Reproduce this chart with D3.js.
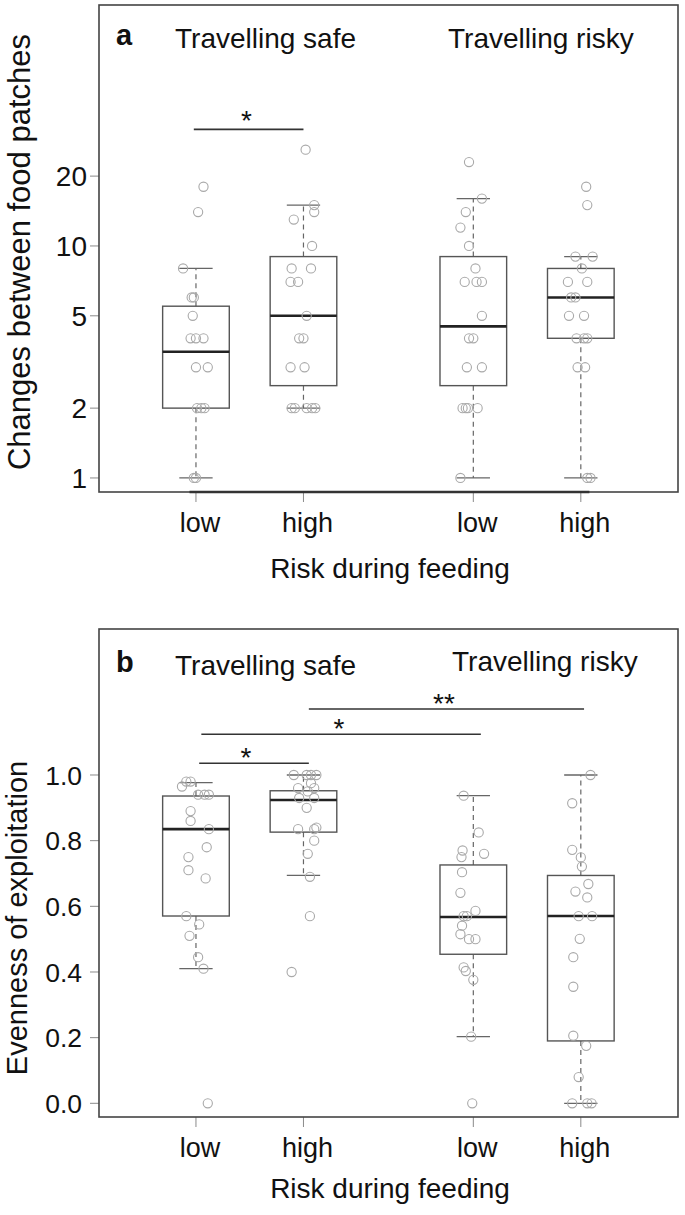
<!DOCTYPE html>
<html><head><meta charset="utf-8">
<script src="https://cdn.jsdelivr.net/npm/d3@7"></script>
<style>
body{margin:0;background:#fff}
svg{display:block}
text{font-family:"Liberation Sans",Arial,Helvetica,sans-serif;fill:#111}
</style>
</head><body>
<svg id="c" width="685" height="1215"></svg>
<script>
// ---------- DATA ----------
const categories = ["low","high","low","high"];
const groupTitles = ["Travelling safe","Travelling risky"];
const xTitle = "Risk during feeding";
const yTitleA = "Changes between food patches";
const yTitleB = "Evenness of exploitation";
const ticksA = [1,2,5,10,20];
const ticksB = [0.0,0.2,0.4,0.6,0.8,1.0];

// Panel a: changes between food patches (raw points)
const aSafeLow  = [18,14,8,6,6,5,4,4,4,3,3,2,2,2,1,1];
const aSafeHigh = [26,15,14,13,10,8,8,7,7,5,4,4,3,3,2,2,2,2,2];
const aRiskLow  = [23,16,14,12,10,8,7,7,7,5,4,4,3,3,2,2,2,2,1];
const aRiskHigh = [18,15,9,9,8,7,7,6,6,5,5,4,4,4,3,3,1,1];
// horizontal jitter of each point (x units)
const aSafeLowJit  = [0.07,0.02,-0.12,-0.04,-0.02,-0.03,-0.05,0.0,0.07,0.0,0.11,0.01,0.05,0.08,-0.02,0.0];
const aSafeHighJit = [0.02,0.10,0.10,-0.09,0.08,-0.11,0.07,-0.12,-0.05,0.03,-0.04,0.0,-0.12,0.01,-0.11,-0.08,0.03,0.08,0.11];
const aRiskLowJit  = [-0.04,0.08,-0.07,-0.12,-0.04,0.02,-0.08,0.03,0.08,0.08,-0.04,0.0,-0.06,0.08,-0.10,-0.07,-0.05,0.04,-0.12];
const aRiskHighJit = [0.05,0.06,-0.05,0.11,0.01,-0.12,0.06,-0.09,-0.05,-0.11,0.03,-0.04,0.03,0.06,-0.03,0.04,0.06,0.09];
// box statistics panel a
const aLower  = [1,2,1,1];
const aQ1     = [2,2.5,2.5,4];
const aMedian = [3.5,5,4.5,6];
const aQ3     = [5.5,9,9,8];
const aUpper  = [8,15,16,9];

// Panel b: evenness of exploitation
const bSafeLow  = [0.98,0.98,0.965,0.94,0.94,0.94,0.89,0.86,0.835,0.78,0.75,0.71,0.685,0.57,0.545,0.51,0.445,0.41,0.0];
const bSafeHigh = [1,1,1,1,0.975,0.96,0.96,0.95,0.93,0.93,0.90,0.835,0.835,0.84,0.80,0.76,0.69,0.57,0.40];
const bRiskLow  = [0.937,0.825,0.77,0.76,0.75,0.704,0.641,0.586,0.57,0.57,0.541,0.515,0.50,0.50,0.414,0.403,0.376,0.203,0.0];
const bRiskHigh = [1.0,0.914,0.772,0.749,0.721,0.668,0.645,0.627,0.57,0.57,0.501,0.445,0.355,0.206,0.175,0.08,0,0,0];
const bSafeLowJit  = [-0.09,-0.05,-0.13,0.02,0.08,0.12,-0.05,-0.05,0.12,0.10,-0.07,-0.07,0.09,-0.09,0.03,-0.06,0.02,0.07,0.11];
const bSafeHighJit = [-0.09,0.03,0.07,0.12,0.07,-0.05,0.10,0.04,-0.04,0.10,0.03,-0.05,0.10,0.12,0.10,0.04,0.06,0.06,-0.11];
const bRiskLowJit  = [-0.09,0.05,-0.10,0.10,-0.11,-0.105,-0.12,0.02,-0.09,-0.06,-0.105,-0.12,-0.04,0.02,-0.09,-0.07,0.0,-0.02,-0.01];
const bRiskHighJit = [0.09,-0.08,-0.08,0.0,0.01,0.07,-0.05,0.06,-0.02,0.105,-0.01,-0.07,-0.07,-0.07,0.05,-0.02,-0.08,0.06,0.10];
const bLower  = [0.41,0.694,0.203,0.0];
const bQ1     = [0.5705,0.826,0.454,0.19];
const bMedian = [0.835,0.924,0.5675,0.5705];
const bQ3     = [0.936,0.952,0.726,0.694];
const bUpper  = [0.977,1.0,0.937,1.0];

// significance brackets
const sigA = [{from:0.98, to:2.0, at:31.8, label:"*", mid:1.47}];
const sigB = [
  {from:1.03, to:2.05, at:1.036, label:"*", mid:1.465},
  {from:1.05, to:3.65, at:1.124, label:"*", mid:2.33},
  {from:2.05, to:4.61, at:1.201, label:"**", mid:3.307}
];

// ---------- LAYOUT ----------
const svg = d3.select("#c");
const groupPos = [1, 2, 3.58, 4.58];
const left = 99, right = 678;
const x = d3.scaleLinear().domain([0.098, 5.484]).range([left, right]);
const halfBox = 0.31, halfStaple = 0.155;

function drawPanel(p) {
  const g = svg.append("g");
  const y = p.y;
  const [yb, yt] = y.range();

  // y axis ticks and labels
  p.ticks.forEach(t => {
    g.append("line").attr("x1", left - 9).attr("x2", left).attr("y1", y(t)).attr("y2", y(t))
      .attr("stroke", "#8a8a8a").attr("stroke-width", 1);
    g.append("text").attr("x", p.tickX).attr("y", y(t)).attr("dy", "0.36em")
      .attr("text-anchor", "end").attr("font-size", p.tickFont).text(p.tickFmt(t));
  });

  // x ticks and labels
  groupPos.forEach((gp, i) => {
    g.append("line").attr("x1", x(gp)).attr("x2", x(gp)).attr("y1", yb).attr("y2", yb + 10)
      .attr("stroke", "#8a8a8a").attr("stroke-width", 1);
    g.append("text").attr("x", x(gp) + 4).attr("y", yb + 40).attr("text-anchor", "middle")
      .attr("font-size", 27).text(categories[i]);
  });
  g.append("text").attr("x", 390).attr("y", yb + p.xTitleOff).attr("text-anchor", "middle")
    .attr("font-size", 28).text(xTitle);

  // y title
  g.append("text").attr("transform", `translate(${p.yTitleX},${p.yTitleY}) rotate(-90)`)
    .attr("text-anchor", "middle").attr("font-size", p.yTitleFont).text(p.yTitle);

  // boxes
  p.groups.forEach((vals, i) => {
    const cx = x(groupPos[i]);
    const x0 = x(groupPos[i] - halfBox), x1 = x(groupPos[i] + halfBox);
    const s0 = x(groupPos[i] - halfStaple), s1 = x(groupPos[i] + halfStaple);
    // whiskers
    [[p.q3[i], p.upper[i]], [p.q1[i], p.lower[i]]].forEach(([a, b]) => {
      g.append("line").attr("x1", cx).attr("x2", cx).attr("y1", y(a)).attr("y2", y(b))
        .attr("stroke", "#666").attr("stroke-width", 1.2).attr("stroke-dasharray", "5,4");
      g.append("line").attr("x1", s0).attr("x2", s1).attr("y1", y(b)).attr("y2", y(b))
        .attr("stroke", "#666").attr("stroke-width", 1.3);
    });
    g.append("rect").attr("x", x0).attr("width", x1 - x0)
      .attr("y", y(p.q3[i])).attr("height", y(p.q1[i]) - y(p.q3[i]))
      .attr("fill", "none").attr("stroke", "#555").attr("stroke-width", 1.4);
    g.append("line").attr("x1", x0).attr("x2", x1).attr("y1", y(p.median[i])).attr("y2", y(p.median[i]))
      .attr("stroke", "#222").attr("stroke-width", 2.6);
  });

  // points
  p.groups.forEach((vals, i) => {
    g.selectAll(null).data(vals.map((v, k) => ({v, j: p.jit[i][k]}))).enter().append("circle")
      .attr("cx", d => x(groupPos[i] + d.j)).attr("cy", d => y(d.v)).attr("r", 4.6)
      .attr("fill", "none").attr("stroke", "#a9a9a9").attr("stroke-width", 1.1);
  });

  // significance
  p.sig.forEach(s => {
    g.append("line").attr("x1", x(s.from)).attr("x2", x(s.to)).attr("y1", y(s.at)).attr("y2", y(s.at))
      .attr("stroke", "#333").attr("stroke-width", 1.6);
    g.append("text").attr("x", x(s.mid)).attr("y", y(s.at) + p.starDy).attr("text-anchor", "middle")
      .attr("font-size", 28).text(s.label);
  });

  // frame
  g.append("rect").attr("x", left).attr("y", yt).attr("width", right - left).attr("height", yb - yt)
    .attr("fill", "none").attr("stroke", "#444").attr("stroke-width", 1.6);
  if (p.axisLine) {
    g.append("line").attr("x1", x(0.94)).attr("x2", x(4.66)).attr("y1", yb).attr("y2", yb)
      .attr("stroke", "#333").attr("stroke-width", 2.6);
  }

  // headers
  g.append("text").attr("x", 116).attr("y", p.headY).attr("font-size", 29).attr("font-weight", "bold").text(p.letter);
  g.append("text").attr("x", 175).attr("y", p.headY + 3).attr("font-size", 28).text(groupTitles[0]);
  g.append("text").attr("x", p.riskyX).attr("y", p.headY + p.riskyDy).attr("font-size", 28).text(groupTitles[1]);
}

drawPanel({
  y: d3.scaleLog().domain([0.87, 109.3]).range([492, 5]),
  ticks: ticksA, tickFmt: d3.format("d"), tickX: 87, tickFont: 28,
  groups: [aSafeLow, aSafeHigh, aRiskLow, aRiskHigh],
  jit: [aSafeLowJit, aSafeHighJit, aRiskLowJit, aRiskHighJit],
  lower: aLower, q1: aQ1, median: aMedian, q3: aQ3, upper: aUpper,
  sig: sigA, starDy: 1, xTitleOff: 86, axisLine: true,
  yTitle: yTitleA, yTitleX: 30, yTitleY: 252, yTitleFont: 31,
  letter: "a", headY: 45, riskyX: 448, riskyDy: 3
});

drawPanel({
  y: d3.scaleLinear().domain([-0.0417, 1.4447]).range([1117, 629]),
  ticks: ticksB, tickFmt: d3.format(".1f"), tickX: 82, tickFont: 26.5,
  groups: [bSafeLow, bSafeHigh, bRiskLow, bRiskHigh],
  jit: [bSafeLowJit, bSafeHighJit, bRiskLowJit, bRiskHighJit],
  lower: bLower, q1: bQ1, median: bMedian, q3: bQ3, upper: bUpper,
  sig: sigB, starDy: 4, xTitleOff: 81, axisLine: false,
  yTitle: yTitleB, yTitleX: 27, yTitleY: 918, yTitleFont: 29,
  letter: "b", headY: 672, riskyX: 452, riskyDy: -1
});
</script>
</body></html>
